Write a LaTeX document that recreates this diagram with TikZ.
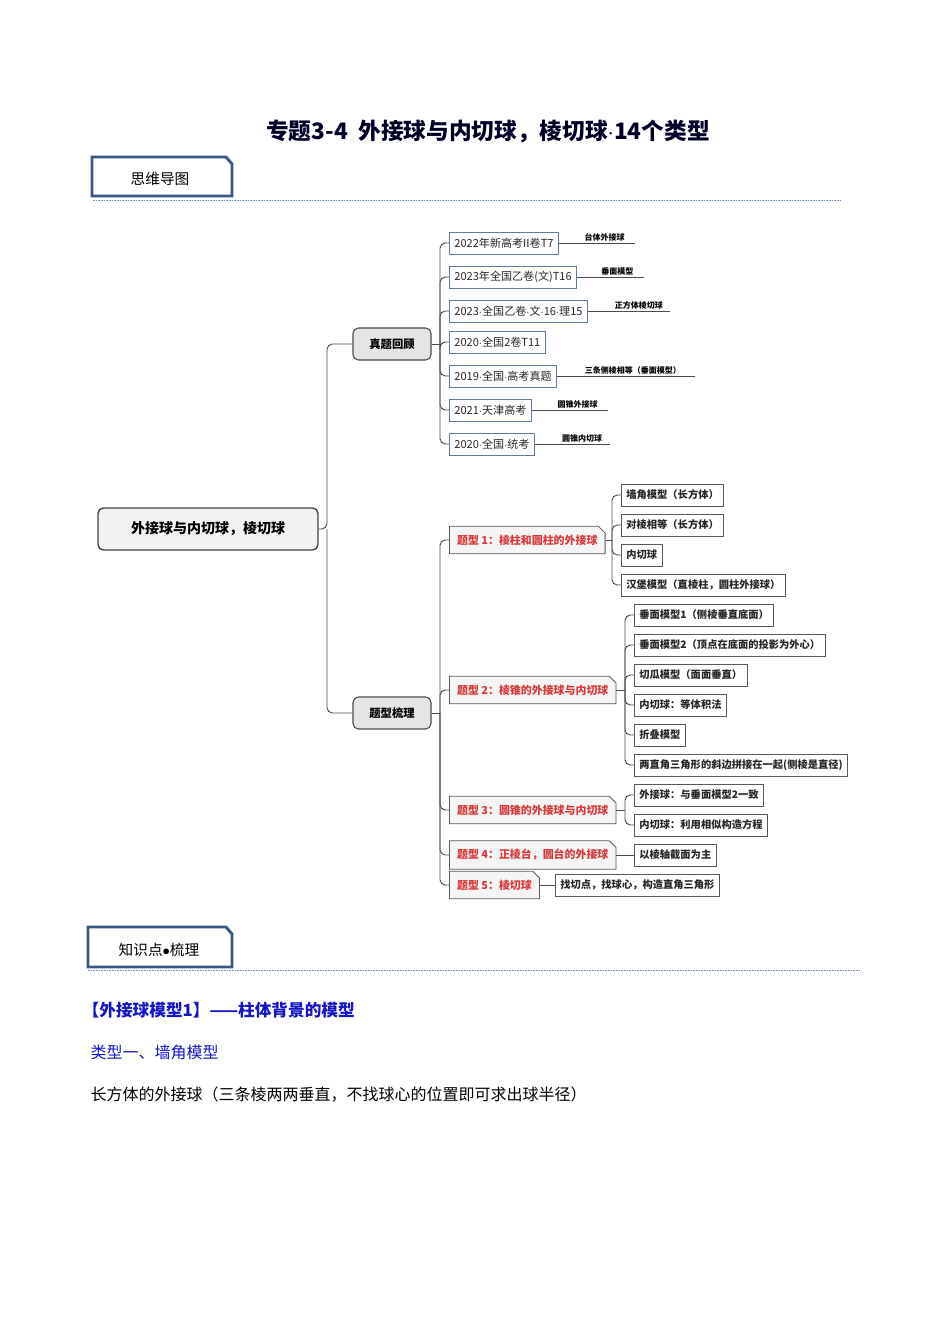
\documentclass[tikz,border=0pt]{standalone}
\usepackage{fontspec}
\usetikzlibrary{shapes.misc}
\setmainfont{Liberation Serif}
\newfontfamily\cjk{Noto Sans CJK SC}
\newcommand\pxw[1]{#1*0.75pt}
\definecolor{frameblue}{HTML}{3A5A85}
\definecolor{dashblue}{HTML}{6F8FB8}
\definecolor{redtxt}{HTML}{D9383A}
\definecolor{headblue}{HTML}{1515C8}
\begin{document}
\begin{tikzpicture}[x=0.75pt,y=-0.75pt,
  conn/.style={draw=black!70,line width=0.7pt,rounded corners=4pt},
  leaf/.style={draw=black!65,line width=0.6pt,anchor=west,minimum height=\pxw{22},inner xsep=\pxw{5},font=\cjk\fontsize{7.7}{8}\selectfont\bfseries,text=black!85},
  year/.style={draw=frameblue!80,line width=0.6pt,anchor=west,minimum height=\pxw{22},inner xsep=\pxw{5},font=\cjk\fontsize{8.3}{9}\selectfont,text=black!85},
  tag/.style={font=\cjk\fontsize{6}{6}\selectfont\bfseries,above,inner sep=1pt},
  typ/.style={draw=black!65,fill=black!4,line width=0.6pt,anchor=west,minimum height=\pxw{22},inner xsep=\pxw{5},font=\cjk\fontsize{8.2}{9}\selectfont\bfseries,text=redtxt,
     chamfered rectangle, chamfered rectangle corners=north east, chamfered rectangle xsep=2pt},
  mid/.style={draw=black!70,fill=black!10,line width=0.8pt,rounded corners=4pt,minimum width=\pxw{78},minimum height=\pxw{32},font=\cjk\fontsize{8.5}{9}\selectfont\bfseries},
  hdr/.style={font=\cjk\fontsize{11}{12}\selectfont},
  dline/.style={dashblue,dash pattern=on 1.2pt off 0.8pt,line width=0.5pt}]
\useasboundingbox (0,0) rectangle (950,1344);

% title
\node[font=\cjk\fontsize{17}{18}\selectfont\bfseries,text=black!85!blue] (title) at (488,131) {专题3-4\ \ 外接球与内切球，棱切球$\cdot$14个类型};

% section header boxes
\draw[frameblue,line width=2.2pt] (92,157) -- (226,157) -- (232,164) -- (232,196) -- (92,196) -- cycle;
\node[hdr] (h1) at (160,179) {思维导图};
\draw[dline] (93,200) -- (840,200);
\draw[frameblue,line width=2.2pt] (88,927) -- (226,927) -- (232,934) -- (232,967) -- (88,967) -- cycle;
\node[hdr] (h2) at (159,950) {知识点$\bullet$梳理};
\draw[dline] (88,970) -- (860,970);

\node[anchor=west,font=\cjk\fontsize{12.5}{13}\selectfont\bfseries,text=headblue] (t1) at (78,1010) {【外接球模型1】——柱体背景的模型};
\node[anchor=west,font=\cjk\fontsize{12}{13}\selectfont,text=headblue] (t2) at (86,1052) {类型一、墙角模型};
\node[anchor=west,font=\cjk\fontsize{12}{13}\selectfont] (t3) at (86,1094) {长方体的外接球（三条棱两两垂直，不找球心的位置即可求出球半径）};

% root
\node[draw=black!75,fill=black!5,line width=1pt,rounded corners=4pt,minimum width=\pxw{220},minimum height=\pxw{42},font=\cjk\fontsize{10.5}{11}\selectfont\bfseries] (root) at (208,529) {外接球与内切球，棱切球};
\node[mid] (zt) at (392,344) {真题回顾};
\node[mid] (tx) at (392,713) {题型梳理};
\draw[conn] (root.east) -- (327,529) |- (zt.west);
\draw[conn] (327,529) |- (tx.west);

% years
\node[year] (y1) at (449,243) {2022年新高考II卷T7};
\node[year] (y2) at (449,277) {2023年全国乙卷(文)T16};
\node[year] (y3) at (449,311) {2023$\cdot$全国乙卷$\cdot$文$\cdot$16$\cdot$理15};
\node[year] (y4) at (449,342) {2020$\cdot$全国2卷T11};
\node[year] (y5) at (449,376) {2019$\cdot$全国$\cdot$高考真题};
\node[year] (y6) at (449,410) {2021$\cdot$天津高考};
\node[year] (y7) at (449,444) {2020$\cdot$全国$\cdot$统考};
\draw[conn] (zt.east) -- (440,344);
\foreach \n in {y1,y2,y3,y4,y5,y6,y7} \draw[conn] (440,344) |- (\n.west);
\draw[conn] (y1.east) -- (635,243) node[tag,pos=0.6] (l1) {台体外接球};
\draw[conn] (y2.east) -- (644,277) node[tag,pos=0.6] (l2) {垂面模型};
\draw[conn] (y3.east) -- (670,311) node[tag,pos=0.62] (l3) {正方体棱切球};
\draw[conn] (y5.east) -- (695,376) node[tag,pos=0.55] (l5) {三条侧棱相等（垂面模型）};
\draw[conn] (y6.east) -- (608,410) node[tag,pos=0.6] (l6) {圆锥外接球};
\draw[conn] (y7.east) -- (610,444) node[tag,pos=0.63] (l7) {圆锥内切球};

% types
\node[typ] (p1) at (449,540) {题型 1：棱柱和圆柱的外接球};
\node[typ] (p2) at (449,690) {题型 2：棱锥的外接球与内切球};
\node[typ] (p3) at (449,810) {题型 3：圆锥的外接球与内切球};
\node[typ] (p4) at (449,855) {题型 4：正棱台，圆台的外接球};
\node[typ] (p5) at (449,885) {题型 5：棱切球};
\draw[conn] (tx.east) -- (440,713);
\foreach \n in {p1,p2,p3,p4,p5} \draw[conn] (440,713) |- (\n.west);

\node[leaf] (a1) at (621,495) {墙角模型（长方体）};
\node[leaf] (a2) at (621,525) {对棱相等（长方体）};
\node[leaf] (a3) at (621,555) {内切球};
\node[leaf] (a4) at (621,585) {汉堡模型（直棱柱，圆柱外接球）};
\draw[conn] (p1.east) -- (612,540);
\foreach \n in {a1,a2,a3,a4} \draw[conn] (612,540) |- (\n.west);

\node[leaf] (b1) at (634,615) {垂面模型1（侧棱垂直底面）};
\node[leaf] (b2) at (634,645) {垂面模型2（顶点在底面的投影为外心）};
\node[leaf] (b3) at (634,675) {切瓜模型（面面垂直）};
\node[leaf] (b4) at (634,705) {内切球：等体积法};
\node[leaf] (b5) at (634,735) {折叠模型};
\node[leaf] (b6) at (634,765) {两直角三角形的斜边拼接在一起(侧棱是直径)};
\draw[conn] (p2.east) -- (625,690);
\foreach \n in {b1,b2,b3,b4,b5,b6} \draw[conn] (625,690) |- (\n.west);

\node[leaf] (c1) at (634,795) {外接球：与垂面模型2一致};
\node[leaf] (c2) at (634,825) {内切球：利用相似构造方程};
\draw[conn] (p3.east) -- (625,810);
\foreach \n in {c1,c2} \draw[conn] (625,810) |- (\n.west);

\node[leaf] (d1) at (634,855) {以棱轴截面为主};
\draw[conn] (p4.east) -- (d1.west);
\node[leaf] (e1) at (555,885) {找切点，找球心，构造直角三角形};
\draw[conn] (p5.east) -- (e1.west);
\end{tikzpicture}
\end{document}
